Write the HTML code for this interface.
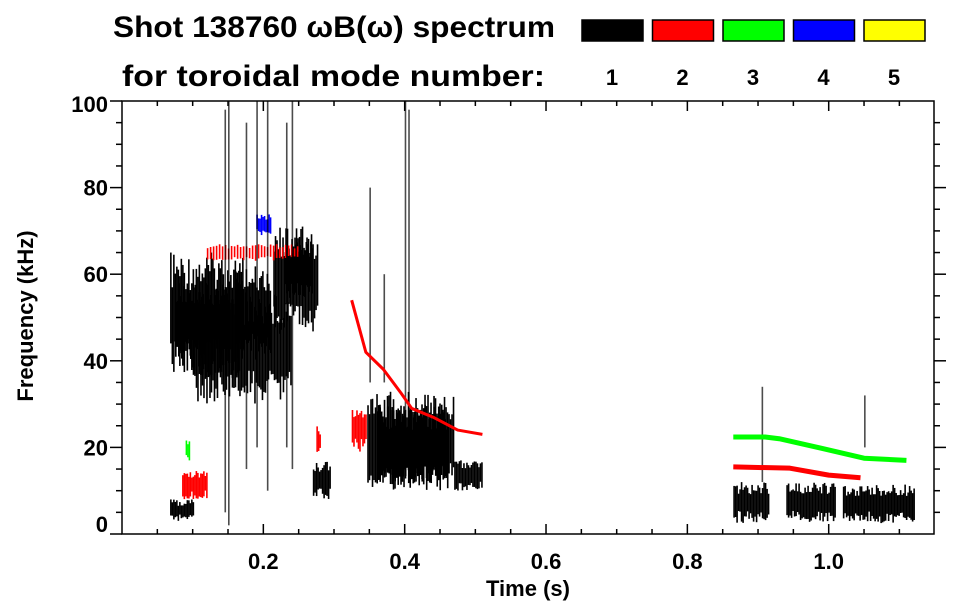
<!DOCTYPE html>
<html><head><meta charset="utf-8"><style>
html,body{margin:0;padding:0;background:#fff;}
svg{display:block;font-family:"Liberation Sans",sans-serif;font-weight:bold;}
</style></head><body>
<svg id="chart" width="963" height="615" viewBox="0 0 963 615">
<g id="title">
<text x="113" y="37" font-size="30" textLength="442" lengthAdjust="spacingAndGlyphs">Shot 138760 ωB(ω) spectrum</text>
<text x="122" y="86" font-size="30" textLength="423" lengthAdjust="spacingAndGlyphs">for toroidal mode number:</text>
</g>
<g id="legend"></g>
<g id="marks"></g>
<g id="axes"></g>
</svg>
<script>
// Data arrays
const modeColors = ['#000000', '#ff0000', '#00ff00', '#0000ff', '#ffff00'];
const modeLabels = ['1', '2', '3', '4', '5'];
const xTicks = [0.2, 0.4, 0.6, 0.8, 1.0];
const xTickLabels = ['0.2', '0.4', '0.6', '0.8', '1.0'];
const yTicks = [0, 20, 40, 60, 80, 100];
const yTickLabels = ['0', '20', '40', '60', '80', '100'];
// blobs (spectral regions): start time, end time, low freq, high freq, mode index
const blobT0 = [0.068, 0.075, 0.10, 0.16, 0.214, 0.23, 0.068, 0.27, 0.347, 0.36, 0.47, 0.865, 0.94, 1.02, 0.12, 0.19, 0.325, 0.085, 0.09, 0.275];
const blobT1 = [0.171, 0.15, 0.24, 0.21, 0.276, 0.27, 0.10, 0.295, 0.47, 0.46, 0.51, 0.915, 1.01, 1.12, 0.25, 0.21, 0.345, 0.12, 0.095, 0.28];
const blobF0 = [36, 40, 30, 40, 46, 54, 3, 8, 10, 10, 10, 2.5, 2.5, 2.5, 63, 69, 19, 8, 17, 18];
const blobF1 = [65, 58, 56, 62, 71, 68, 8, 17, 33, 30, 17, 12, 12, 11.5, 67, 74, 29, 15, 22, 25];
const blobMode = [0, 0, 0, 0, 0, 0, 0, 0, 0, 0, 0, 0, 0, 0, 1, 3, 1, 1, 2, 1];
// vertical streaks: time, freq low, freq high
const streakT = [0.15, 0.145, 0.175, 0.19, 0.205, 0.24, 0.232, 0.35, 0.40, 0.405, 0.37, 0.905, 1.05];
const streakF0 = [2, 5, 15, 20, 10, 15, 20, 35, 20, 30, 35, 12, 20];
const streakF1 = [100, 98, 95, 100, 100, 100, 95, 80, 100, 98, 60, 34, 32];
// ridge curves
const redCurveT = [0.325, 0.345, 0.37, 0.395, 0.41, 0.44, 0.475, 0.51];
const redCurveF = [54, 42, 38, 32.5, 29, 27, 24, 23];
const greenCurveT = [0.865, 0.91, 0.93, 0.99, 1.05, 1.11];
const greenCurveF = [22.4, 22.4, 22, 19.8, 17.5, 17];
const redLateT = [0.865, 0.945, 1.0, 1.045];
const redLateF = [15.5, 15.2, 13.6, 13];

const NS = 'http://www.w3.org/2000/svg';
const X0 = 122, X1 = 934, Y0 = 534, Y1 = 101;
const tMax = (X1 - X0) / 706.7;
function xs(t) { return X0 + t * 706.7; }
function ys(f) { return Y0 - (f / 100) * (Y0 - Y1); }
function mk(tag, attrs, parent) {
  const e = document.createElementNS(NS, tag);
  for (const k in attrs) e.setAttribute(k, attrs[k]);
  parent.appendChild(e);
  return e;
}
const marks = document.getElementById('marks');
const axes = document.getElementById('axes');
const legend = document.getElementById('legend');

// legend
for (let i = 0; i < modeColors.length; i++) {
  const lx = 582 + i * 70.5;
  const r = mk('rect', {x: lx, y: 20, width: 61, height: 21, fill: modeColors[i], stroke: '#000', 'stroke-width': 1.5}, legend);
  
  
  const t = mk('text', {x: lx + 30, y: 85, 'font-size': 22, 'text-anchor': 'middle'}, legend);
  t.textContent = modeLabels[i];
  
  
}

// texture helper (styling only)
function jit(i) { const s = Math.sin(i * 12.9898) * 43758.5453; return s - Math.floor(s); }

// blobs
for (let b = 0; b < blobT0.length; b++) {
  const g = mk('g', {}, marks);
  
  
  const xa = xs(blobT0[b]), xb = xs(blobT1[b]);
  const ya = ys(blobF1[b]), yb = ys(blobF0[b]);
  const h = yb - ya;
  const sparse = blobMode[b] === 1 && b === 14;
  for (let x = xa, k = 0; x < xb; x += sparse ? 3 : 1.5, k++) {
    const j1 = jit(b * 131 + k), j2 = jit(b * 71 + k * 3 + 1);
    const top = ya + h * 0.3 * j1, bot = yb - h * 0.3 * j2;
    mk('rect', {x: x, y: top, width: 1.6, height: Math.max(1, bot - top), fill: modeColors[blobMode[b]]}, g);
  }
}
// streaks
for (let i = 0; i < streakT.length; i++) {
  const r = mk('rect', {x: xs(streakT[i]), y: ys(streakF1[i]), width: 1.6, height: ys(streakF0[i]) - ys(streakF1[i]), fill: '#000', opacity: 0.7}, marks);
  
  
}
function curve(ts, fs, color, w, name) {
  const p = ts.map((t, i) => xs(t) + ',' + ys(fs[i])).join(' ');
  const l = mk('polyline', {points: p, fill: 'none', stroke: color, 'stroke-width': w, 'stroke-linejoin': 'round'}, marks);
  
  
}
curve(redCurveT, redCurveF, '#ff0000', 3, 'mode-2-ridge');
curve(greenCurveT, greenCurveF, '#00ff00', 5, 'mode-3-ridge-late');
curve(redLateT, redLateF, '#ff0000', 5, 'mode-2-ridge-late');

// axes frame
const frame = mk('rect', {x: X0, y: Y1, width: X1 - X0, height: Y0 - Y1, fill: 'none', stroke: '#000', 'stroke-width': 1.5}, axes);


// x ticks
for (let t = 0.05; t < tMax; t += 0.05) {
  const major = Math.abs(t / 0.2 - Math.round(t / 0.2)) < 0.01;
  const len = major ? 10 : 5;
  mk('line', {x1: xs(t), x2: xs(t), y1: Y0, y2: Y0 - len, stroke: '#000', 'stroke-width': 1.5}, axes);
  mk('line', {x1: xs(t), x2: xs(t), y1: Y1, y2: Y1 + len, stroke: '#000', 'stroke-width': 1.5}, axes);
}
xTicks.forEach((t, i) => {
  const tx = mk('text', {x: xs(t), y: 569, 'font-size': 22, 'text-anchor': 'middle'}, axes);
  tx.textContent = xTickLabels[i];
  
  
});
// y ticks
for (let f = 5; f < 100; f += 5) {
  const len = (f % 20 === 0) ? 12 : 6;
  mk('line', {x1: X0, x2: X0 - len, y1: ys(f), y2: ys(f), stroke: '#000', 'stroke-width': 1.5}, axes);
  mk('line', {x1: X1, x2: X1 + len, y1: ys(f), y2: ys(f), stroke: '#000', 'stroke-width': 1.5}, axes);
}
mk('line', {x1: X0, x2: X0 - 12, y1: Y1, y2: Y1, stroke: '#000', 'stroke-width': 1.5}, axes);
mk('line', {x1: X0, x2: X0 - 12, y1: Y0, y2: Y0, stroke: '#000', 'stroke-width': 1.5}, axes);
yTicks.forEach((f, i) => {
  const ty = Math.min(Math.max(ys(f) + 8, 112), 532);
  const tx = mk('text', {x: 108, y: ty, 'font-size': 22, 'text-anchor': 'end'}, axes);
  tx.textContent = yTickLabels[i];
  
  
});
const xt = mk('text', {x: 528, y: 596, 'font-size': 22, 'text-anchor': 'middle'}, axes);
xt.textContent = 'Time (s)';


const yt = mk('text', {x: 0, y: 0, 'font-size': 22, 'text-anchor': 'middle', transform: 'translate(33,316) rotate(-90)'}, axes);
yt.textContent = 'Frequency (kHz)';


</script>
</body></html>
